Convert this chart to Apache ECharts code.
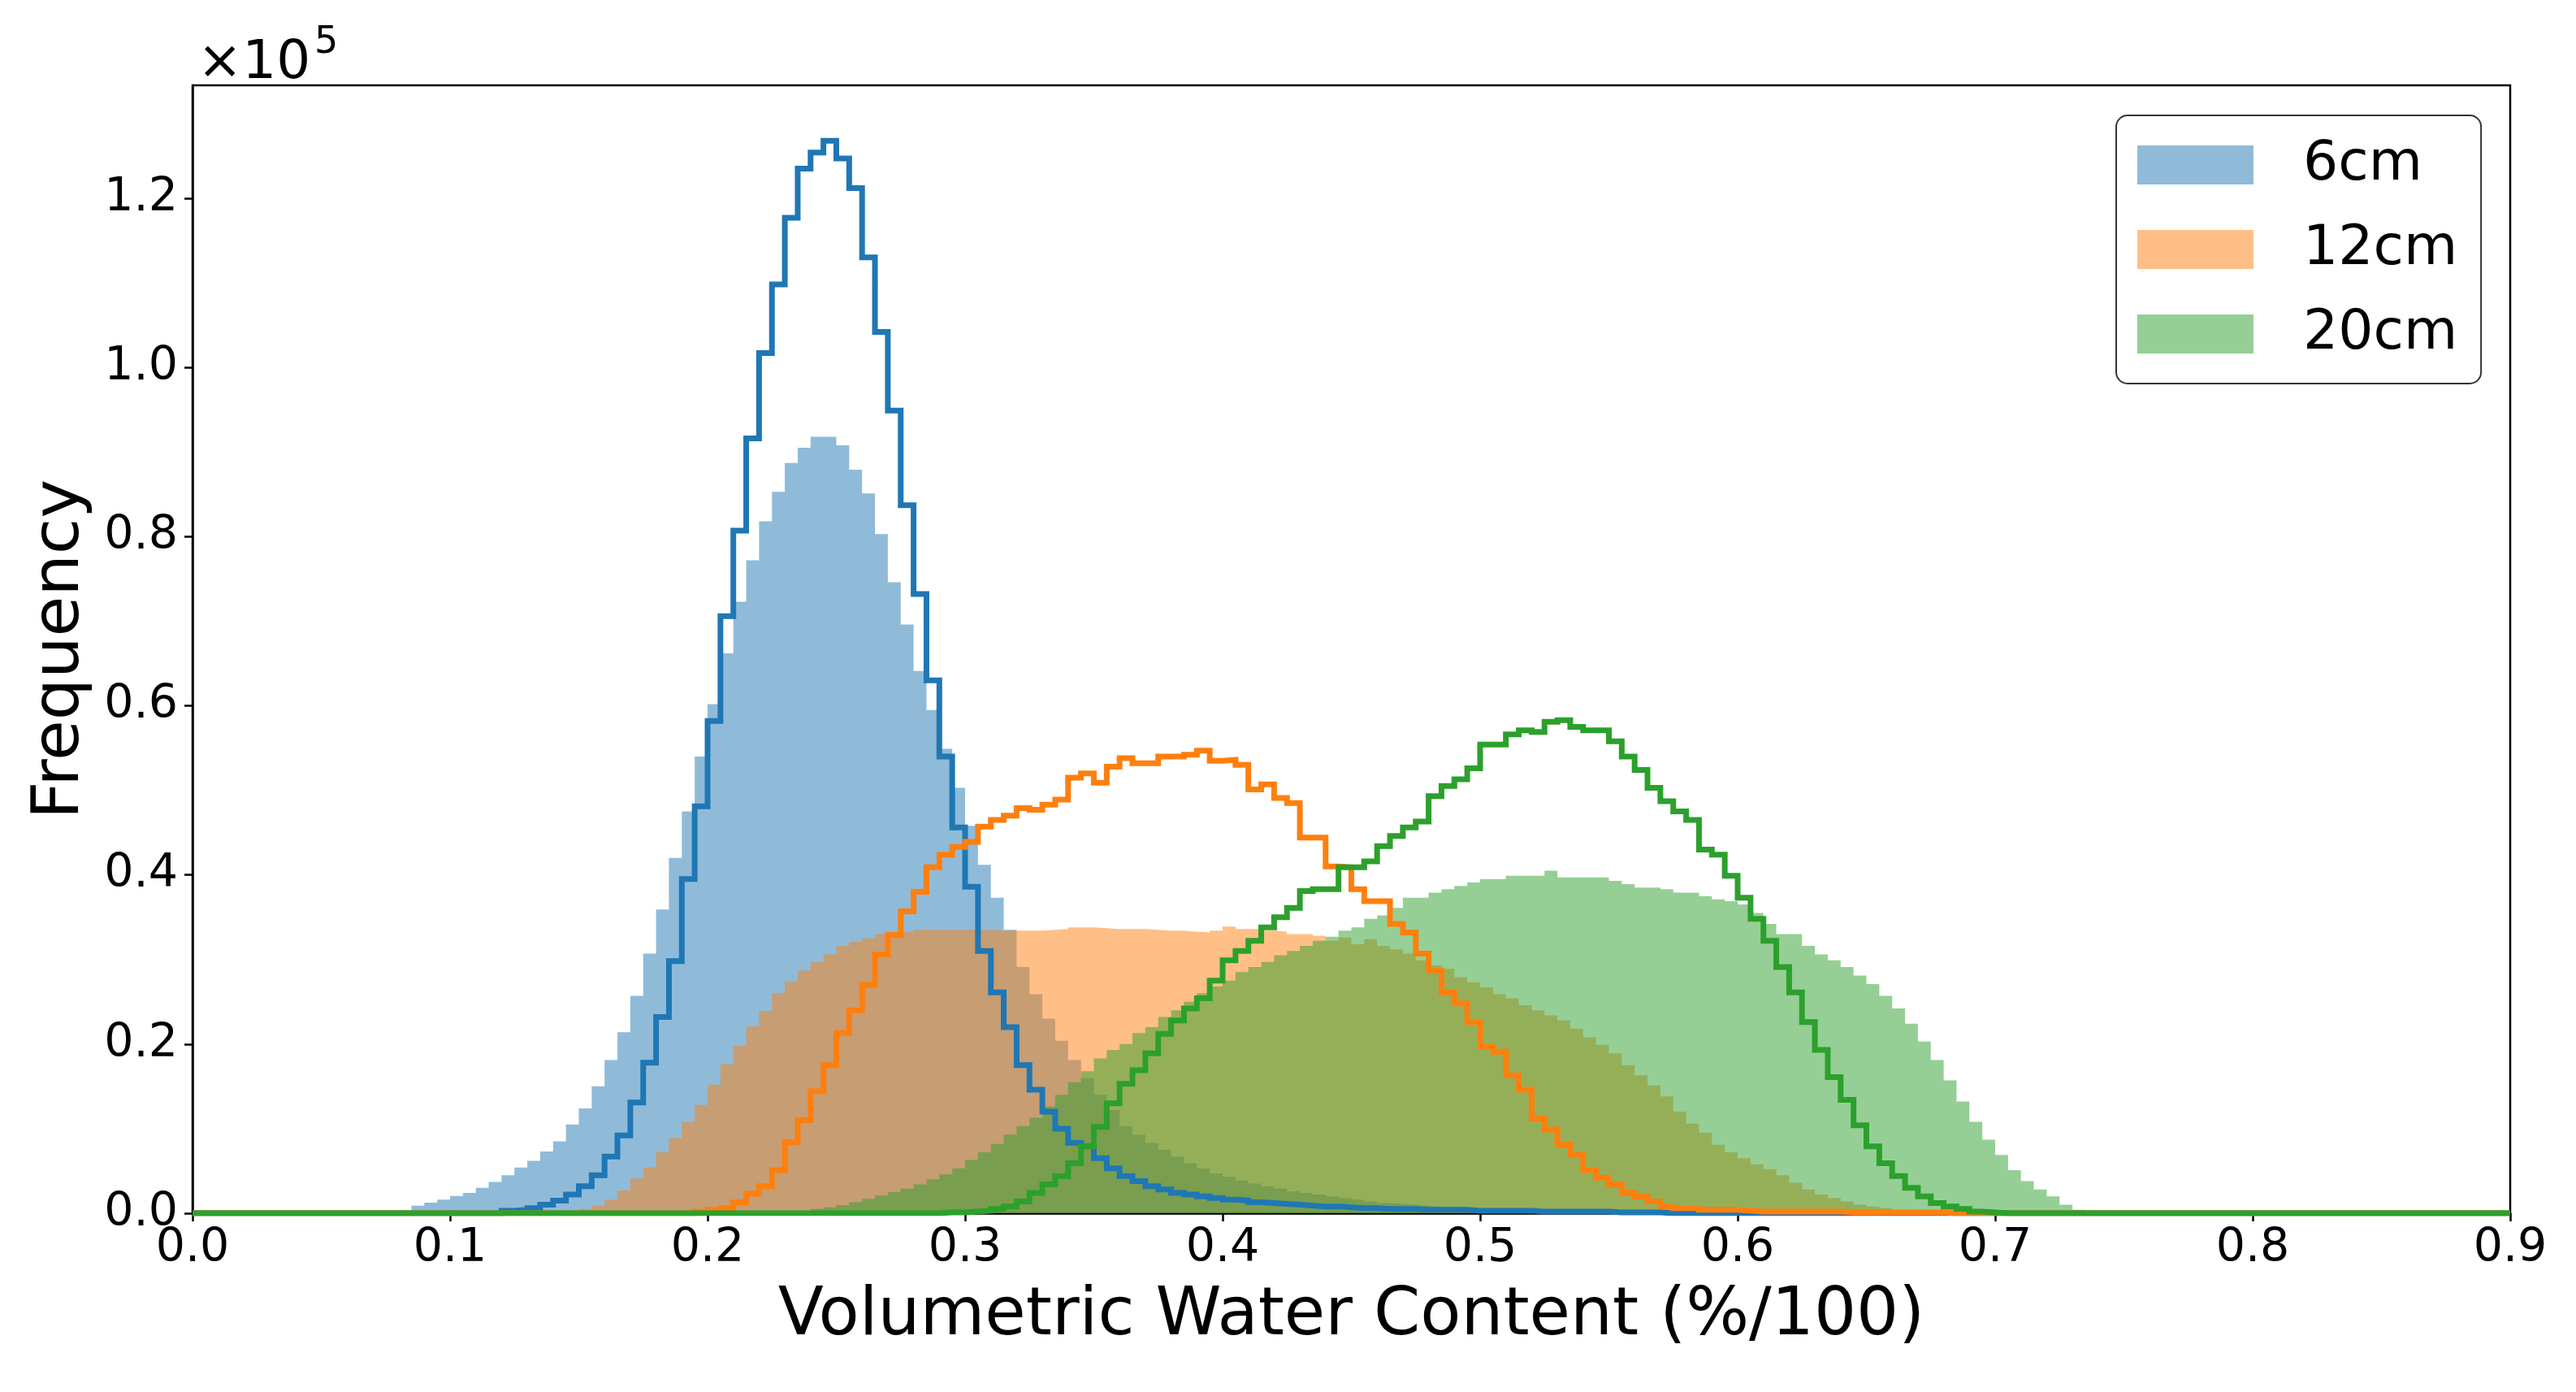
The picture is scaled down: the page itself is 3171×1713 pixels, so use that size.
<!DOCTYPE html>
<html>
<head>
<meta charset="utf-8">
<title>Volumetric Water Content histogram</title>
<script src="https://cdn.jsdelivr.net/npm/echarts@6/dist/echarts.min.js"></script>
<style>
  html, body { margin: 0; padding: 0; background: #fff; }
  #main { width: 3171px; height: 1713px; }
</style>
</head>
<body>
<div id="main"></div>
<script>
// histogram bins: 0 .. 0.9, width 0.005
var binWidth = 0.005;
var binCount = 180;

var xTicks = [0, 0.1, 0.2, 0.3, 0.4, 0.5, 0.6, 0.7, 0.8, 0.9];
var yTicks = [0, 0.2, 0.4, 0.6, 0.8, 1.0, 1.2];   // x10^5

var depths = ['6cm', '12cm', '20cm'];

// filled histograms (frequency x10^5), first bin left edge given by *Start
var fill6Start = 0.085;
var fill6 = [0.009, 0.0125, 0.016, 0.0205, 0.024, 0.030, 0.037, 0.045, 0.054, 0.062,
  0.073, 0.085, 0.105, 0.124, 0.150, 0.181, 0.214, 0.257, 0.307, 0.359,
  0.420, 0.475, 0.540, 0.602, 0.662, 0.723, 0.772, 0.818, 0.853, 0.887,
  0.905, 0.918, 0.918, 0.908, 0.879, 0.851, 0.803, 0.746, 0.696, 0.641,
  0.595, 0.549, 0.503, 0.458, 0.412, 0.373, 0.335, 0.291, 0.259, 0.230,
  0.204, 0.181, 0.160, 0.140, 0.122, 0.103, 0.093, 0.083, 0.075, 0.067,
  0.059, 0.053, 0.047, 0.043, 0.039, 0.035, 0.032, 0.029, 0.026, 0.024,
  0.022, 0.020, 0.018, 0.016, 0.014, 0.012, 0.011, 0.010, 0.009, 0.008,
  0.007, 0.006, 0.005, 0.004, 0.004, 0.003, 0.003, 0.002, 0.002, 0.002,
  0.001, 0.001, 0.001];

var fill12Start = 0.14;
var fill12 = [0.001, 0.002, 0.005, 0.009, 0.016, 0.027, 0.041, 0.054, 0.072, 0.089,
  0.108, 0.128, 0.152, 0.176, 0.198, 0.221, 0.239, 0.260, 0.274, 0.287,
  0.297, 0.306, 0.316, 0.321, 0.325, 0.330, 0.333, 0.333, 0.335, 0.335,
  0.335, 0.335, 0.335, 0.335, 0.334, 0.334, 0.334, 0.334, 0.335, 0.336,
  0.338, 0.338, 0.337, 0.336, 0.336, 0.336, 0.335, 0.334, 0.334, 0.333,
  0.332, 0.334, 0.339, 0.336, 0.336, 0.334, 0.333, 0.330, 0.330, 0.328,
  0.322, 0.326, 0.318, 0.324, 0.316, 0.312, 0.307, 0.299, 0.293, 0.289,
  0.279, 0.273, 0.267, 0.259, 0.254, 0.246, 0.240, 0.234, 0.228, 0.218,
  0.208, 0.199, 0.189, 0.175, 0.163, 0.151, 0.138, 0.120, 0.106, 0.095,
  0.081, 0.072, 0.065, 0.058, 0.052, 0.045, 0.036, 0.028, 0.022, 0.018,
  0.014, 0.010, 0.008, 0.006, 0.004, 0.003, 0.002, 0.001];

var fill20Start = 0.2;
var fill20 = [0.001, 0.001, 0.001, 0.001, 0.002, 0.002, 0.002, 0.003, 0.005, 0.007,
  0.0095, 0.013, 0.017, 0.021, 0.025, 0.029, 0.034, 0.040, 0.046, 0.053,
  0.063, 0.072, 0.082, 0.093, 0.103, 0.113, 0.126, 0.140, 0.155, 0.168,
  0.183, 0.193, 0.200, 0.213, 0.220, 0.232, 0.240, 0.250, 0.260, 0.268,
  0.275, 0.285, 0.291, 0.297, 0.305, 0.310, 0.316, 0.322, 0.327, 0.334,
  0.338, 0.348, 0.352, 0.361, 0.373, 0.373, 0.379, 0.383, 0.387, 0.391,
  0.395, 0.395, 0.399, 0.399, 0.399, 0.405, 0.397, 0.397, 0.397, 0.397,
  0.393, 0.389, 0.385, 0.385, 0.383, 0.379, 0.379, 0.375, 0.371, 0.369,
  0.365, 0.355, 0.342, 0.330, 0.330, 0.316, 0.306, 0.299, 0.291, 0.281,
  0.271, 0.257, 0.242, 0.224, 0.203, 0.181, 0.157, 0.132, 0.108, 0.087,
  0.069, 0.051, 0.038, 0.028, 0.020, 0.010, 0.004];

// step outlines (frequency x10^5)
var line6Start = 0.12;
var line6 = [0.003, 0.004, 0.006, 0.010, 0.015, 0.022, 0.032, 0.045, 0.067, 0.092,
  0.131, 0.178, 0.232, 0.298, 0.395, 0.481, 0.582, 0.706, 0.807, 0.916,
  1.017, 1.098, 1.177, 1.235, 1.254, 1.268, 1.247, 1.212, 1.130, 1.042,
  0.949, 0.837, 0.732, 0.630, 0.540, 0.456, 0.386, 0.310, 0.261, 0.220,
  0.175, 0.146, 0.120, 0.100, 0.083, 0.079, 0.065, 0.053, 0.044, 0.038,
  0.032, 0.028, 0.024, 0.022, 0.020, 0.018, 0.016, 0.015, 0.013, 0.012,
  0.011, 0.010, 0.009, 0.008, 0.008, 0.007, 0.006, 0.006, 0.005, 0.005,
  0.005, 0.004, 0.004, 0.004, 0.004, 0.003, 0.003, 0.003, 0.003, 0.003,
  0.002, 0.002, 0.002, 0.002, 0.002, 0.002, 0.001, 0.001, 0.001, 0.001];

var line12Start = 0.195;
var line12 = [0.002, 0.004, 0.006, 0.013, 0.023, 0.032, 0.051, 0.084, 0.110, 0.144,
  0.175, 0.213, 0.240, 0.270, 0.306, 0.329, 0.357, 0.380, 0.409, 0.424,
  0.433, 0.439, 0.457, 0.465, 0.470, 0.479, 0.477, 0.483, 0.489, 0.515,
  0.520, 0.509, 0.528, 0.538, 0.532, 0.532, 0.540, 0.540, 0.542, 0.547,
  0.535, 0.536, 0.530, 0.501, 0.507, 0.491, 0.485, 0.444, 0.444, 0.410,
  0.409, 0.383, 0.369, 0.369, 0.342, 0.332, 0.307, 0.287, 0.261, 0.248,
  0.226, 0.197, 0.191, 0.163, 0.146, 0.112, 0.099, 0.081, 0.069, 0.051,
  0.042, 0.034, 0.024, 0.020, 0.014, 0.008, 0.006, 0.006, 0.004, 0.004,
  0.004, 0.003, 0.002, 0.002, 0.002, 0.002, 0.002, 0.002, 0.002, 0.001,
  0.001, 0.001, 0.001, 0.001, 0.001, 0.001, 0.001];

var line20Start = 0.29;
var line20 = [0.001, 0.001, 0.002, 0.003, 0.005, 0.008, 0.014, 0.024, 0.034, 0.044,
  0.059, 0.079, 0.102, 0.130, 0.153, 0.169, 0.189, 0.212, 0.228, 0.242,
  0.254, 0.275, 0.299, 0.310, 0.322, 0.338, 0.350, 0.361, 0.381, 0.383,
  0.383, 0.409, 0.409, 0.416, 0.434, 0.446, 0.456, 0.463, 0.493, 0.505,
  0.513, 0.526, 0.554, 0.554, 0.566, 0.571, 0.569, 0.581, 0.583, 0.575,
  0.571, 0.571, 0.558, 0.540, 0.524, 0.503, 0.487, 0.475, 0.465, 0.430,
  0.424, 0.399, 0.373, 0.348, 0.322, 0.291, 0.261, 0.226, 0.193, 0.161,
  0.134, 0.104, 0.079, 0.059, 0.044, 0.030, 0.020, 0.012, 0.008, 0.005,
  0.002, 0.001];

var colors = ['#1f77b4', '#ff7f0e', '#2ca02c'];
var fillColors = ['rgba(31,119,180,0.5)', 'rgba(255,127,14,0.5)', 'rgba(44,160,44,0.5)'];
var font = 'DejaVu Sans';

// turn a bin list into [edge, count] points over the whole 0..0.9 range
function toSteps(start, values) {
  var pts = [];
  var offset = Math.round(start / binWidth);
  for (var i = 0; i <= binCount; i++) {
    var k = i - offset;
    var v = (k >= 0 && k < values.length) ? values[k] : 0;
    pts.push([+(i * binWidth).toFixed(3), v]);
  }
  return pts;
}

var fills = [[fill6Start, fill6], [fill12Start, fill12], [fill20Start, fill20]];
var lines = [[line6Start, line6], [line12Start, line12], [line20Start, line20]];

var series = [];
fills.forEach(function (f, i) {
  series.push({
    name: depths[i],
    type: 'line',
    step: 'end',
    symbol: 'none',
    silent: true,
    data: toSteps(f[0], f[1]),
    lineStyle: { width: 0, color: colors[i] },
    itemStyle: { color: colors[i] },
    areaStyle: { color: colors[i], opacity: 0.5 }
  });
});
lines.forEach(function (l, i) {
  series.push({
    name: depths[i] + ' outline',
    type: 'line',
    step: 'end',
    symbol: 'none',
    silent: true,
    data: toSteps(l[0], l[1]),
    lineStyle: { width: 7, color: colors[i], join: 'miter' },
    itemStyle: { color: colors[i] }
  });
});

var chart = echarts.init(document.getElementById('main'));

var option = {
  animation: false,
  backgroundColor: '#fff',
  grid: {
    left: 237, right: 81, top: 105, bottom: 220,
    show: true, borderColor: '#000', borderWidth: 2.5
  },
  xAxis: {
    type: 'value',
    min: 0, max: 0.9, interval: 0.1,
    name: 'Volumetric Water Content (%/100)',
    nameLocation: 'middle',
    nameGap: 128,
    nameTextStyle: { fontFamily: font, fontSize: 82, color: '#000', verticalAlign: 'middle' },
    axisLine: { show: true, onZero: false, lineStyle: { color: '#000', width: 2.5 } },
    axisTick: { show: true, length: 10, customValues: xTicks, lineStyle: { color: '#000', width: 2.5 } },
    axisLabel: {
      customValues: xTicks, margin: 16,
      fontFamily: font, fontSize: 57, color: '#000',
      formatter: function (v) { return v.toFixed(1); }
    },
    splitLine: { show: false }
  },
  yAxis: {
    type: 'value',
    min: 0, max: 1.3335, interval: 0.2,
    name: 'Frequency',
    nameLocation: 'middle',
    nameRotate: 90,
    nameGap: 162,
    nameTextStyle: { fontFamily: font, fontSize: 81, color: '#000', verticalAlign: 'middle' },
    axisLine: { show: true, onZero: false, lineStyle: { color: '#000', width: 2.5 } },
    axisTick: { show: true, length: 10, customValues: yTicks, lineStyle: { color: '#000', width: 2.5 } },
    axisLabel: {
      customValues: yTicks, margin: 18,
      fontFamily: font, fontSize: 57, color: '#000',
      formatter: function (v) { return v.toFixed(1); }
    },
    splitLine: { show: false }
  },
  legend: {
    orient: 'vertical',
    left: 2605, top: 142,
    padding: [27, 29, 27, 26],
    icon: 'rect',
    itemWidth: 143, itemHeight: 48, itemGap: 36,
    backgroundColor: '#fff',
    borderColor: '#333', borderWidth: 2, borderRadius: 14,
    data: depths.map(function (d, i) {
      return { name: d, itemStyle: { color: fillColors[i] } };
    }),
    textStyle: { fontFamily: font, fontSize: 68, lineHeight: 68, color: '#000', padding: [0, 0, 0, 56] }
  },
  graphic: [
    { type: 'text', left: 243, top: 46, style: { text: '×10', fontFamily: font, fontSize: 66, fill: '#000' } },
    { type: 'text', left: 387, top: 30, style: { text: '5', fontFamily: font, fontSize: 46, fill: '#000' } }
  ],
  series: series
};

chart.setOption(option);
</script>
</body>
</html>
